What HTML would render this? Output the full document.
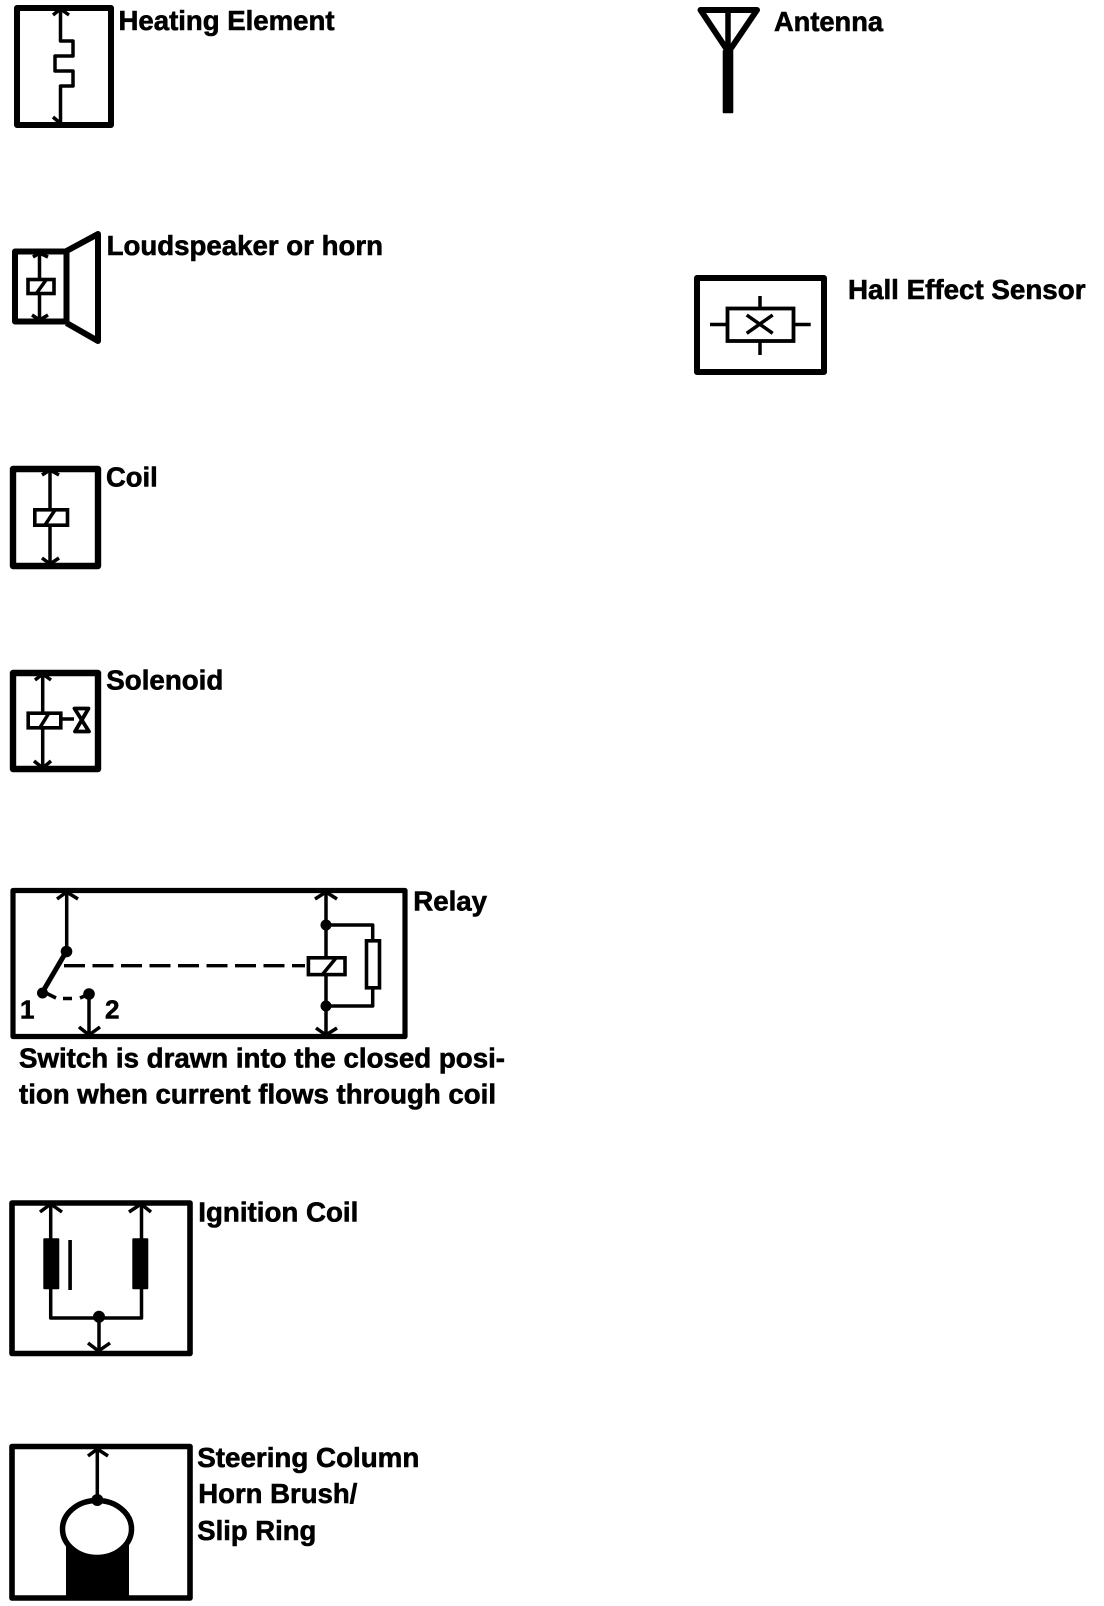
<!DOCTYPE html>
<html>
<head>
<meta charset="utf-8">
<style>
html,body{margin:0;padding:0;background:#fff;width:1104px;height:1606px;overflow:hidden}
svg{display:block}
text{font-family:"Liberation Sans",Arial,sans-serif;font-weight:700;font-size:27.4px;fill:#000;stroke:#000;stroke-width:.6}
.b{fill:none;stroke:#000;stroke-width:6;stroke-linejoin:round}
.w{fill:none;stroke:#000;stroke-width:3.5;stroke-linejoin:round}
.k{fill:#fff;stroke:#000;stroke-width:3.6}
</style>
</head>
<body>
<svg xmlns="http://www.w3.org/2000/svg" width="1104" height="1606" viewBox="0 0 1104 1606">
<rect width="1104" height="1606" fill="#fff"/>

<!-- Heating Element -->
<rect class="b" x="17" y="8" width="94" height="117"/>
<path class="w" d="M60.5 8V41H73V56H55V71H73V86H60.5V124"/>
<path class="w" d="M53 15L60.5 9L69 15M53 117L60 123"/>
<text x="118.5" y="29.8" textLength="216" lengthAdjust="spacingAndGlyphs">Heating Element</text>

<!-- Loudspeaker -->
<rect class="b" x="15" y="251.5" width="51.5" height="70"/>
<path class="b" d="M66.5 251L98 234V341L66.5 323"/>
<path class="w" d="M39.5 252V279M39.5 294V321"/>
<rect class="k" x="28" y="279.5" width="26" height="14"/>
<path class="w" d="M36 294L46 280M33 257L39.5 253L48 257M32 315L39.5 320L48 315"/>
<text x="106.7" y="254.8" textLength="276.3" lengthAdjust="spacingAndGlyphs">Loudspeaker or horn</text>

<!-- Coil -->
<rect class="b" x="13" y="469" width="85" height="97" style="stroke-width:6.4"/>
<path class="w" d="M50 469V509M50 526V565"/>
<rect class="k" x="34.8" y="509.8" width="32.7" height="15.4"/>
<path class="w" d="M45 525L55 510M42 475L50 470L59 475M42 558L50 564L59 558"/>
<text x="106" y="486.7" textLength="51.7" lengthAdjust="spacingAndGlyphs">Coil</text>

<!-- Solenoid -->
<rect class="b" x="13" y="673" width="85" height="96" style="stroke-width:6.4"/>
<path class="w" d="M42.7 673V712M42.7 729V768"/>
<rect class="k" x="28.2" y="713.2" width="32.6" height="14.6"/>
<path class="w" d="M39 729L49 713M62 719H74M35 680L42.7 674L51 680M34 761L42.7 768L51 761"/>
<path d="M74.5 708.5H88.5L75 731.5H89Z" fill="none" stroke="#000" stroke-width="3.8" stroke-linejoin="round"/>
<text x="106.3" y="689.7" textLength="117" lengthAdjust="spacingAndGlyphs">Solenoid</text>

<!-- Relay -->
<rect class="b" x="13" y="890.5" width="392" height="146" style="stroke-width:5.2"/>
<path class="w" d="M66.7 891V952"/>
<path d="M66 952L42 993" fill="none" stroke="#000" stroke-width="5"/>
<circle cx="66.5" cy="951.5" r="5.8"/>
<circle cx="42.5" cy="993" r="5.5"/>
<circle cx="89" cy="994" r="5.8"/>
<path class="w" d="M44 992L56 998M63 998.5H72M80 998L87 995M89 994V1036"/>
<path d="M64 965.7H305" fill="none" stroke="#000" stroke-width="3.4" stroke-dasharray="21 7.5"/>
<path class="w" d="M57 899L66.7 892L78 899M79 1027L89 1035L100 1027"/>
<path class="w" d="M326 891V957M326 976V1036M326 925H372.7V940M372.7 989V1006H326"/>
<circle cx="326" cy="925" r="5.5"/>
<circle cx="326" cy="1006" r="5.5"/>
<rect class="k" x="308.4" y="957.8" width="36.6" height="16.8"/>
<path class="w" d="M322 975L336 958M315 899L326 892L337 899M316 1028L326 1035L337 1028"/>
<rect class="k" x="366.5" y="940.8" width="13" height="47"/>
<text x="20" y="1018.5" style="font-size:26px">1</text>
<text x="105" y="1018.5" style="font-size:26px">2</text>
<text x="413.3" y="910.7" textLength="73.7" lengthAdjust="spacingAndGlyphs">Relay</text>
<text x="19" y="1067.7" textLength="486" lengthAdjust="spacingAndGlyphs">Switch is drawn into the closed posi-</text>
<text x="19" y="1103.7" textLength="477" lengthAdjust="spacingAndGlyphs">tion when current flows through coil</text>

<!-- Ignition Coil -->
<rect class="b" x="12" y="1203" width="178" height="150.5" style="stroke-width:5.6"/>
<path class="w" d="M50.7 1203V1318H141.5V1203M99 1318V1353"/>
<rect x="43.3" y="1238.3" width="16" height="51" rx="1"/>
<rect x="132.3" y="1238.3" width="16" height="51" rx="1"/>
<rect x="68.3" y="1240" width="3.6" height="50"/>
<circle cx="99" cy="1316.7" r="6"/>
<path class="w" d="M40 1212L50.7 1204L62 1212M129 1212L141 1204L151 1212M88 1343L98.5 1351L110 1343"/>
<text x="198.3" y="1221.3" textLength="160" lengthAdjust="spacingAndGlyphs">Ignition Coil</text>

<!-- Steering Column -->
<rect x="66" y="1530" width="63" height="67"/>
<ellipse cx="97" cy="1529" rx="34.5" ry="28.5" fill="#fff" stroke="#000" stroke-width="5.5"/>
<rect class="b" x="12" y="1446.5" width="178" height="151.5" style="stroke-width:5.6"/>
<path class="w" d="M97.3 1447V1498M88 1456L97.3 1449L108 1456"/>
<circle cx="97.3" cy="1500" r="6"/>
<text x="197.3" y="1467.2" textLength="222" lengthAdjust="spacingAndGlyphs">Steering Column</text>
<text x="198.3" y="1502.8" textLength="159" lengthAdjust="spacingAndGlyphs">Horn Brush/</text>
<text x="197.3" y="1539.8" textLength="119" lengthAdjust="spacingAndGlyphs">Slip Ring</text>

<!-- Antenna -->
<path d="M700.5 10H757L728.5 52Z" fill="none" stroke="#000" stroke-width="6" stroke-linejoin="round"/>
<path d="M728 10V52" fill="none" stroke="#000" stroke-width="5.5"/>
<rect x="722.7" y="50" width="10.6" height="63.3" rx="1"/>
<text x="774" y="31.2" textLength="109" lengthAdjust="spacingAndGlyphs">Antenna</text>

<!-- Hall Effect Sensor -->
<rect class="b" x="697" y="278" width="127" height="94"/>
<rect x="727.5" y="308.5" width="66" height="32.5" fill="none" stroke="#000" stroke-width="3.8"/>
<path class="w" d="M710 324.5H727M795 324.5H810.7M760 296V308M760 342V355M746.7 315L772.7 333.3M746.7 333.3L772.7 315"/>
<text x="848" y="298.8" textLength="237.5" lengthAdjust="spacingAndGlyphs">Hall Effect Sensor</text>
</svg>
</body>
</html>
